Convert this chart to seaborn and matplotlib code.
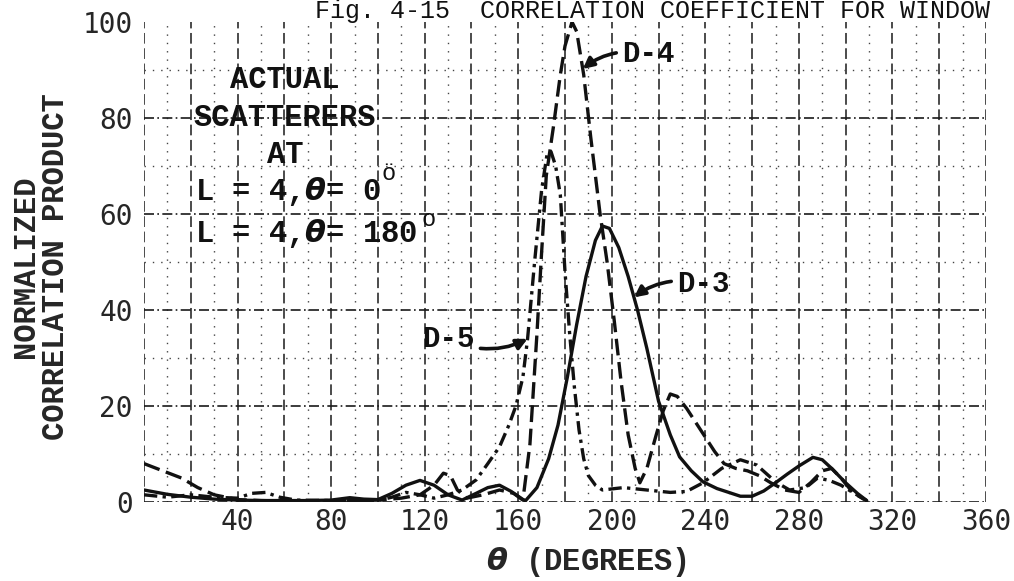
import numpy as np
import pandas as pd
import matplotlib
matplotlib.use("Agg")
import matplotlib.pyplot as plt
import seaborn as sns

# ---- data: normalized correlation product vs. look angle theta (degrees) ----
d3_theta = [0, 10, 20, 30, 40, 50, 60, 70, 80, 88, 94, 100, 106, 112, 118, 124, 130, 136,
            142, 147, 152, 157, 163, 168, 173, 177, 181, 185, 189, 193, 196, 199, 203, 207,
            211, 215, 220, 225, 229, 234, 239, 245, 250, 255, 260, 265, 270, 275, 280, 286,
            290, 294, 300, 305, 309]
d3_val = [2.5, 1.6, 1.0, 0.6, 0.4, 0.3, 0.3, 0.3, 0.4, 0.9, 0.6, 0.5, 1.8, 3.5, 4.5, 3.5, 1.5, 0.4,
          1.8, 3.0, 3.5, 2.2, 0.2, 3.0, 9.0, 16.0, 26.0, 37.0, 47.0, 54.5, 57.5, 57.0, 53.0, 47.0,
          40.0, 32.0, 21.0, 14.0, 9.4, 6.5, 4.2, 2.8, 2.0, 1.2, 1.2, 2.3, 4.0, 5.8, 7.5, 9.3,
          8.8, 7.0, 4.0, 1.8, 0.3]

d4_theta = [0, 8, 16, 23, 30, 40, 50, 60, 80, 100, 110, 118, 124, 128, 131, 134, 138, 145,
            152, 158, 162, 165, 168, 170, 172, 175, 178, 180, 183, 185, 188, 191, 195, 198,
            201, 204, 207, 210, 212, 215, 219, 222, 225, 228, 232, 238, 244, 248, 253, 258,
            263, 268, 274, 280, 285, 290, 294, 298, 303, 308]
d4_val = [8.0, 6.5, 5.0, 3.0, 1.5, 0.5, 0.3, 0.2, 0.2, 0.4, 0.8, 1.5, 3.5, 6.0, 5.5, 2.5, 0.8, 1.5,
          2.5, 1.8, 0.4, 12, 35, 52, 68, 78, 89, 95, 100, 98, 89, 76, 60, 50,
          38, 25, 14, 7, 4, 7, 14, 19, 22.5, 22, 19.5, 15, 10.5, 8, 7, 6.5,
          5.5, 4, 2.5, 2, 4, 6.5, 7, 5, 2, 0.5]

d5_theta = [0, 10, 20, 30, 40, 46, 52, 58, 65, 80, 100, 106, 112, 118, 124, 130, 136, 142,
            147, 152, 156, 159, 162, 164, 167, 170, 172.5, 174, 176, 178, 180, 182, 184, 186,
            188, 190, 193, 196, 205, 215, 225, 232, 239, 247, 255, 262, 270, 276, 283, 288,
            293, 298, 303, 309]
d5_val = [1.5, 1.0, 1.5, 1.0, 0.8, 1.8, 2.0, 1.0, 0.4, 0.3, 0.3, 1.0, 2.0, 1.5, 0.8, 1.5, 2.5, 4.6,
          8.0, 11.5, 16, 20, 26, 34, 50, 65, 73, 73, 70, 64, 48, 35, 24, 15,
          9, 5.5, 3.5, 2.5, 3.0, 2.5, 2.0, 2.2, 4.0, 7.0, 8.8, 7.7, 4.2, 2.5, 3.0, 5.0,
          4.5, 3.5, 2.0, 0.3]

x_ticks = [40, 80, 120, 160, 200, 240, 280, 320, 360]
y_ticks = [0, 20, 40, 60, 80, 100]

series = {
    "D-3": (d3_theta, d3_val, "-"),
    "D-4": (d4_theta, d4_val, (0, (5, 2))),
    "D-5": (d5_theta, d5_val, (0, (4, 1.6, 1, 1.6))),
}

sns.set_theme(style="white")
MONO = ["Liberation Mono", "DejaVu Sans Mono"]
plt.rcParams["font.family"] = MONO
plt.rcParams["mathtext.fontset"] = "dejavusans"

fig = plt.figure(figsize=(10.14, 5.81), dpi=100)
ax = fig.add_axes([144 / 1014, 1 - 502 / 581, 842 / 1014, 480 / 581])

# graph-paper grid
for v in range(0, 361, 20):
    ax.axvline(v, color="#1a1a1a", lw=1.1, ls=(0, (7, 3)), zorder=0)
for v in range(10, 360, 20):
    ax.axvline(v, color="#444444", lw=1.0, ls=(0, (1, 5)), zorder=0)
for h in range(0, 100, 20):
    ax.axhline(h, color="#1a1a1a", lw=1.2, ls=(0, (6, 2, 1, 2)), zorder=0)
for h in range(10, 100, 20):
    ax.axhline(h, color="#444444", lw=1.0, ls=(0, (1, 5)), zorder=0)

for name, (th, val, ls) in series.items():
    df = pd.DataFrame({"theta": th, "value": val})
    sns.lineplot(data=df, x="theta", y="value", ax=ax, color="#111111",
                 lw=2.4, linestyle=ls, errorbar=None, sort=True, zorder=3)

ax.set_xlim(0, 360)
ax.set_ylim(0, 100)
for s in ax.spines.values():
    s.set_visible(False)

ax.set_xticks(x_ticks)
ax.set_yticks(y_ticks)
tick_font = dict(family=["DejaVu Sans Mono"], size=20)
ax.set_xticklabels([str(t) for t in x_ticks], fontdict=tick_font)
ax.set_yticklabels([str(t) for t in y_ticks], fontdict=tick_font)
ax.tick_params(axis="x", length=0, pad=4)
ax.tick_params(axis="y", length=7, width=1.5, direction="out", pad=1, color="#111111")

ax.set_xlabel(r"$\boldsymbol{\theta}$ (DEGREES)", fontsize=22, fontweight="bold")
ax.xaxis.set_label_coords(0.525, -0.125)
ax.xaxis.label.set_va("center")
ax.set_ylabel("NORMALIZED\nCORRELATION PRODUCT", fontsize=22, fontweight="bold",
              linespacing=1.0)
ax.yaxis.set_label_coords(-0.122, 0.49)
ax.yaxis.label.set_va("center")

# caption block inside the plot
txt = dict(fontsize=22, fontweight="bold", color="#111111", zorder=4)
ax.text(60.3, 87.9, "ACTUAL", ha="center", va="center", **txt)
ax.text(60.3, 80.0, "SCATTERERS", ha="center", va="center", **txt)
ax.text(60.3, 72.3, "AT", ha="center", va="center", **txt)
ax.text(22.0, 64.6, r"L = 4,$\boldsymbol{\theta}$= 0", ha="left", va="center", **txt)
ax.text(22.0, 56.0, r"L = 4,$\boldsymbol{\theta}$= 180", ha="left", va="center", **txt)
ax.text(104.5, 68.5, "ö", ha="center", va="center", fontsize=17, color="#111111")
ax.text(121.5, 58.8, "o", ha="center", va="center", fontsize=17, color="#111111")

# curve labels with pointers
arrow = dict(arrowstyle="-|>", color="#111111", lw=2.6, mutation_scale=16,
             shrinkA=2, shrinkB=0, connectionstyle="arc3,rad=0.25")
lab = dict(fontsize=21, fontweight="bold", color="#111111", va="center", ha="left")
ax.annotate("D-4", xy=(187.6, np.interp(187.6, d4_theta, d4_val)), xytext=(204.5, 93.3),
            arrowprops=arrow, **lab)
ax.annotate("D-3", xy=(209.5, np.interp(209.5, d3_theta, d3_val)), xytext=(228.0, 45.4),
            arrowprops=arrow, **lab)
ax.annotate("D-5", xy=(164.0, np.interp(164.0, d5_theta, d5_val)), xytext=(118.8, 34.0),
            arrowprops=arrow, **lab)

# figure caption along the top edge
fig.text(990 / 1014, 1 - 18 / 581, "Fig. 4-15  CORRELATION COEFFICIENT FOR WINDOW",
         ha="right", va="baseline", fontsize=18, color="#111111")

fig.savefig("out.png", dpi=100)
